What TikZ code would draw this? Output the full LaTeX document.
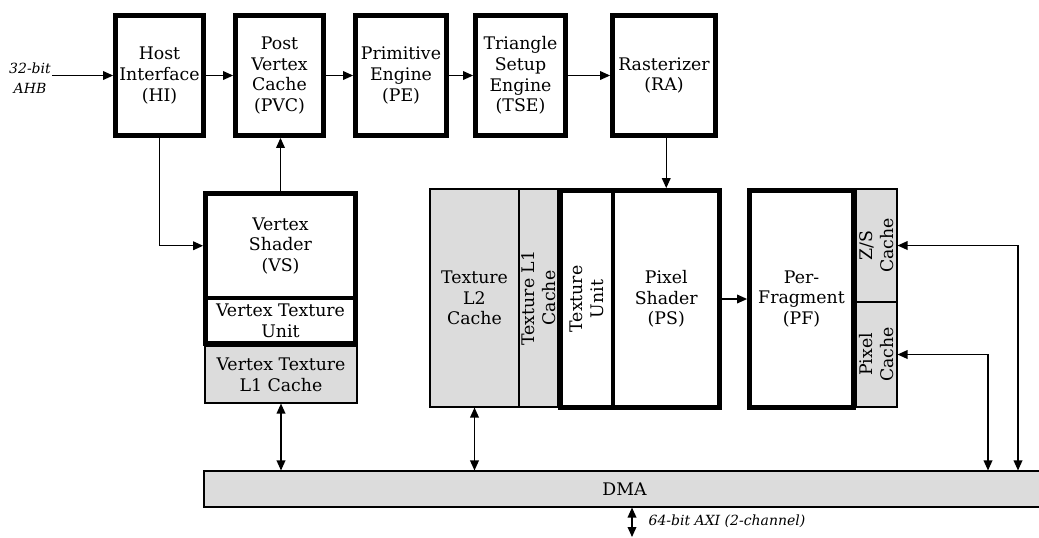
\documentclass[tikz,border=0pt]{standalone}
\usepackage{fontspec}
\setmainfont{DejaVu Serif}
\usetikzlibrary{arrows.meta}
\definecolor{cachegray}{RGB}{220,220,220}

\begin{document}
\begin{tikzpicture}[x=0.75pt,y=-0.75pt]
\tikzset{
  unitbox/.style={draw,line width=3.6pt,align=center,inner sep=0pt,font=\fontsize{13}{15.5}\selectfont},
  cachebox/.style={draw,line width=0.8pt,fill=cachegray,align=center,inner sep=0pt,font=\fontsize{13}{15.5}\selectfont},
  boxsize/.style 2 args={minimum width=#1*0.75pt,minimum height=#2*0.75pt},
  vtext/.style={rotate=90,align=center,inner sep=0pt,font=\fontsize{13}{15.5}\selectfont},
  buslabel/.style={align=center,inner sep=1pt,font=\fontsize{10.5}{15}\selectfont\itshape},
  flow/.style={-{Triangle[length=7.5pt,width=6.5pt]},line width=1pt},
  twoway/.style={{Triangle[length=7.5pt,width=6.5pt]}-{Triangle[length=7.5pt,width=6.5pt]},line width=1pt}
}
\useasboundingbox (0,0) rectangle (1039,537);
\node[unitbox,boxsize={88}{120}] (n_HI) at (159.5,75.5) {Host\\Interface\\(HI)};
\node[unitbox,boxsize={88}{120}] (n_PVC) at (279.5,75.5) {Post\\Vertex\\Cache\\(PVC)};
\node[unitbox,boxsize={91}{120}] (n_PE) at (401,75.5) {Primitive\\Engine\\(PE)};
\node[unitbox,boxsize={90}{120}] (n_TSE) at (520.5,75.5) {Triangle\\Setup\\Engine\\(TSE)};
\node[unitbox,boxsize={103}{120}] (n_RA) at (664,75.5) {Rasterizer\\(RA)};
\node[buslabel] (n_AHB) at (30,78) {32-bit\\AHB};
\node[cachebox,boxsize={152}{57}] (n_VTL1) at (281,374.5) {Vertex Texture\\L1 Cache};
\node[unitbox,boxsize={150}{104.5}] (n_VS) at (280.5,245.75) {Vertex\\Shader\\(VS)};
\node[unitbox,boxsize={150}{45.5}] (n_VTU) at (280.5,320.75) {Vertex Texture\\Unit};
\node[cachebox,boxsize={89}{218}] (n_L2) at (474.5,298) {Texture\\L2\\Cache};
\node[cachebox,boxsize={39}{218}] (n_L1) at (538.5,298) {};
\node[vtext] (t_L1) at (n_L1) {Texture L1\\Cache};
\node[cachebox,boxsize={41}{113}] (n_ZS) at (876.5,245.5) {};
\node[vtext] (t_ZS) at (n_ZS) {Z/S\\Cache};
\node[cachebox,boxsize={41}{105}] (n_PC) at (876.5,354.5) {};
\node[vtext] (t_PC) at (n_PC) {Pixel\\Cache};
\node[unitbox,boxsize={52.5}{217}] (n_TU) at (586.75,299) {};
\node[vtext] (t_TU) at (n_TU) {Texture\\Unit};
\node[unitbox,boxsize={106.5}{217}] (n_PS) at (666.25,299) {Pixel\\Shader\\(PS)};
\node[unitbox,boxsize={104}{217}] (n_PF) at (801.5,299) {Per-\\Fragment\\(PF)};
\node[cachebox,boxsize={841}{36}] (n_DMA) at (624.5,489) {DMA};
\coordinate (c_ZS) at (1018,0);
\coordinate (c_PC) at (988,0);
\coordinate (c_AXI) at (632,537);
\node[buslabel,anchor=west] (n_AXI) at (647,521) {64-bit AXI (2-channel)};
\draw[flow] (n_AHB.east |- n_HI.west) -- (n_HI.west);
\draw[flow] (n_HI) -- (n_PVC);
\draw[flow] (n_PVC) -- (n_PE);
\draw[flow] (n_PE) -- (n_TSE);
\draw[flow] (n_TSE) -- (n_RA);
\draw[flow] (n_HI.south) |- (n_VS.west);
\draw[flow] (n_VS.north) -- (n_VS.north |- n_PVC.south);
\draw[flow] (n_RA.south -| n_PS.north) -- (n_PS.north);
\draw[flow] (n_PS.east |- n_PF.west) -- (n_PF.west);
\draw[twoway] (n_VTL1.south) -- (n_VTL1.south |- n_DMA.north);
\draw[twoway] (n_L2.south) -- (n_L2.south |- n_DMA.north);
\draw[twoway] (n_ZS.east) -| (c_ZS |- n_DMA.north);
\draw[twoway] (n_PC.east) -| (c_PC |- n_DMA.north);
\draw[twoway] (c_AXI |- n_DMA.south) -- (c_AXI);
\end{tikzpicture}
\end{document}
